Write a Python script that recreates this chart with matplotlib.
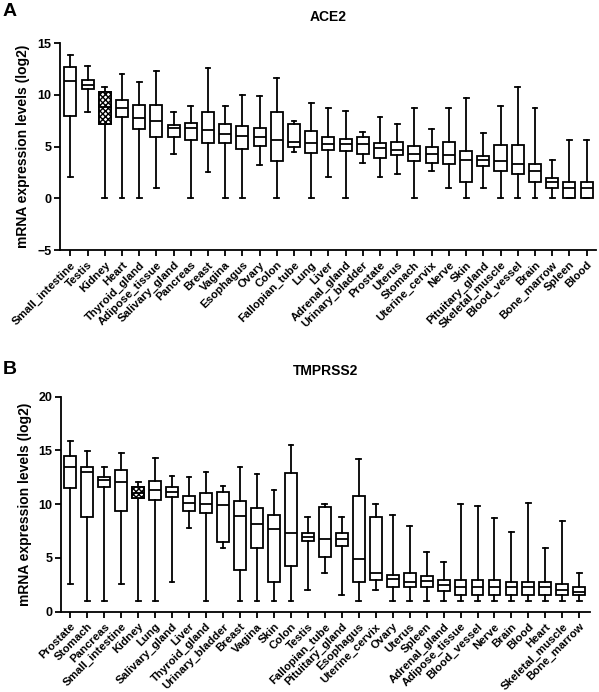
import numpy as np
import matplotlib.pyplot as plt
from matplotlib.patches import Rectangle

plt.rcParams['font.family'] = ['Liberation Sans', 'DejaVu Sans']
plt.rcParams['font.weight'] = 'bold'

# ACE2 panel: whisker low, Q1, median, Q3, whisker high
ace2_tissues = ["Small_intestine", "Testis", "Kidney", "Heart", "Thyroid_gland",
                "Adipose_tissue", "Salivary_gland", "Pancreas", "Breast", "Vagina",
                "Esophagus", "Ovary", "Colon", "Fallopian_tube", "Lung", "Liver",
                "Adrenal_gland", "Urinary_bladder", "Prostate", "Uterus", "Stomach",
                "Uterine_cervix", "Nerve", "Skin", "Pituitary_gland", "Skeletal_muscle",
                "Blood_vessel", "Brain", "Bone_marrow", "Spleen", "Blood"]
ace2_low = [2.03, 8.4, 0, 0, 0, 1.0, 4.26, 0, 2.58, 0, 0, 3.2, 0, 4.5, 0, 2.03,
            0, 3.45, 2.03, 2.35, 0, 2.6, 1.03, 0, 1.03, 0, 0, 0, 0, 0, 0]
ace2_q1 = [7.97, 10.6, 7.16, 7.9, 6.74, 5.9, 5.97, 5.65, 5.4, 5.4, 4.74, 5.06, 3.58,
           4.94, 4.42, 4.68, 4.58, 4.29, 3.94, 4.16, 3.6, 3.42, 3.29, 1.58, 3.16,
           2.64, 2.39, 1.58, 1.03, 0, 0]
ace2_med = [11.35, 11.0, 8.87, 8.77, 7.8, 7.48, 6.77, 6.77, 6.6, 6.2, 6.03, 5.9, 5.65,
            5.48, 5.39, 5.26, 5.23, 5.23, 4.9, 4.71, 4.26, 4.26, 4.19, 3.7, 3.68,
            3.6, 3.35, 2.6, 1.58, 1.03, 1.03]
ace2_q3 = [12.7, 11.45, 10.26, 9.5, 9.0, 9.0, 7.06, 7.3, 8.32, 7.2, 7.03, 6.84, 8.39,
           7.2, 6.5, 5.94, 5.77, 5.97, 5.39, 5.48, 5.06, 4.97, 5.5, 4.58, 4.13,
           5.19, 5.16, 3.32, 2.0, 1.55, 1.58]
ace2_high = [13.9, 12.8, 10.8, 12.0, 11.3, 12.3, 8.35, 8.94, 12.6, 8.94, 10.0, 9.9,
             11.68, 7.5, 9.26, 8.7, 8.45, 6.42, 7.84, 7.19, 8.7, 6.74, 8.74, 9.74,
             6.32, 8.9, 10.8, 8.77, 3.68, 5.6, 5.68]

# TMPRSS2 panel
tmprss2_tissues = ["Prostate", "Stomach", "Pancreas", "Small_intestine", "Kidney", "Lung",
                   "Salivary_gland", "Liver", "Thyroid_gland", "Urinary_bladder", "Breast",
                   "Vagina", "Skin", "Colon", "Testis", "Fallopian_tube", "Pituitary_gland",
                   "Esophagus", "Uterine_cervix", "Ovary", "Uterus", "Spleen",
                   "Adrenal_gland", "Adipose_tissue", "Blood_vessel", "Nerve", "Brain",
                   "Blood", "Heart", "Skeletal_muscle", "Bone_marrow"]
tmprss2_low = [2.6, 0.95, 0.95, 2.6, 0.95, 0.95, 2.75, 7.78, 0.95, 5.96, 0.95, 0.95,
               0.95, 0.95, 1.97, 3.6, 1.56, 0.95, 1.97, 0.95, 0.95, 0.95, 0.95, 0.95,
               0.95, 0.95, 0.95, 0.95, 0.95, 0.95, 0.95]
tmprss2_q1 = [11.54, 8.77, 11.6, 9.4, 10.6, 10.43, 10.65, 9.4, 9.17, 6.51, 3.86, 5.96,
              2.8, 4.29, 6.54, 5.09, 6.14, 2.78, 2.9, 2.28, 2.28, 2.34, 1.94, 1.53,
              1.53, 1.53, 1.53, 1.53, 1.53, 1.53, 1.53]
tmprss2_med = [13.46, 12.96, 12.22, 12.04, 11.05, 11.3, 11.1, 10.15, 10.06, 9.88, 8.89,
               8.12, 7.7, 7.31, 6.94, 6.76, 6.76, 4.9, 3.58, 3.06, 2.75, 2.81, 2.5,
               2.28, 2.28, 2.28, 2.28, 2.28, 2.28, 1.97, 1.8]
tmprss2_q3 = [14.5, 13.5, 12.53, 13.18, 11.57, 12.13, 11.57, 10.8, 11.08, 11.17, 10.3,
              9.63, 9.0, 12.9, 7.28, 9.7, 7.31, 10.77, 8.83, 3.44, 3.56, 3.31, 2.97,
              2.97, 2.97, 2.97, 2.78, 2.78, 2.78, 2.56, 2.28]
tmprss2_high = [15.9, 14.94, 13.43, 14.8, 12.04, 14.26, 12.6, 12.5, 13.0, 11.73, 13.49,
                12.78, 11.33, 15.5, 8.8, 10.06, 8.8, 14.17, 10.0, 9.04, 7.93, 5.56,
                4.63, 10.06, 9.8, 8.7, 7.38, 10.15, 5.96, 8.4, 3.6]


def draw_panel(ax, names, low, q1, med, q3, high, title, ylim, yticks, xlim, hatched):
    stats = []
    for n, a, b, c, d, e in zip(names, low, q1, med, q3, high):
        stats.append(dict(label=n, whislo=a, q1=b, med=c, q3=d, whishi=e, fliers=[]))
    lp = dict(color='black', linewidth=1.3)
    ax.bxp(stats, positions=np.arange(len(names)), widths=0.7, capwidths=0.28,
           patch_artist=True, showfliers=False,
           boxprops=dict(facecolor='white', edgecolor='black', linewidth=1.3),
           medianprops=lp, whiskerprops=lp, capprops=lp)
    # the highlighted (kidney) box gets a dense dotted fill
    i = names.index(hatched)
    ax.add_patch(Rectangle((i - 0.35, q1[i]), 0.7, q3[i] - q1[i], facecolor='white',
                           edgecolor='black', hatch='xxxxxx', linewidth=1.3, zorder=3))
    ax.plot([i - 0.35, i + 0.35], [med[i], med[i]], color='black', lw=1.3, zorder=4)
    ax.set_xlim(*xlim)
    ax.set_ylim(*ylim)
    ax.set_yticks(yticks)
    ax.set_xticks(np.arange(len(names)))
    ax.set_xticklabels(names, rotation=45, ha='right', rotation_mode='anchor',
                       fontsize=8.2, fontweight='bold')
    ax.tick_params(axis='y', labelsize=9, width=1.3, length=4, pad=2)
    ax.tick_params(axis='x', width=1.3, length=4, pad=3)
    for s in ['top', 'right']:
        ax.spines[s].set_visible(False)
    for s in ['left', 'bottom']:
        ax.spines[s].set_linewidth(1.3)
    ax.set_ylabel("mRNA expression levels (log2)", fontsize=10, fontweight='bold', labelpad=5)
    ax.set_title(title, fontsize=10, fontweight='bold', pad=16)


fig = plt.figure(figsize=(5.99, 6.92), dpi=100)
ax1 = fig.add_axes([0.1002, 0.6387, 0.8948, 0.2987])
ax2 = fig.add_axes([0.1018, 0.1161, 0.8832, 0.3106])

draw_panel(ax1, ace2_tissues, ace2_low, ace2_q1, ace2_med, ace2_q3, ace2_high,
           "ACE2", (-5, 15), [-5, 0, 5, 10, 15], (-0.6, 30.55), "Kidney")
draw_panel(ax2, tmprss2_tissues, tmprss2_low, tmprss2_q1, tmprss2_med, tmprss2_q3,
           tmprss2_high, "TMPRSS2", (0, 20), [0, 5, 10, 15, 20], (-0.55, 30.63), "Kidney")

fig.text(0.005, 0.995, "A", fontsize=14, fontweight='bold', va='top')
fig.text(0.005, 0.478, "B", fontsize=14, fontweight='bold', va='top')

fig.savefig("out.png", dpi=100)
